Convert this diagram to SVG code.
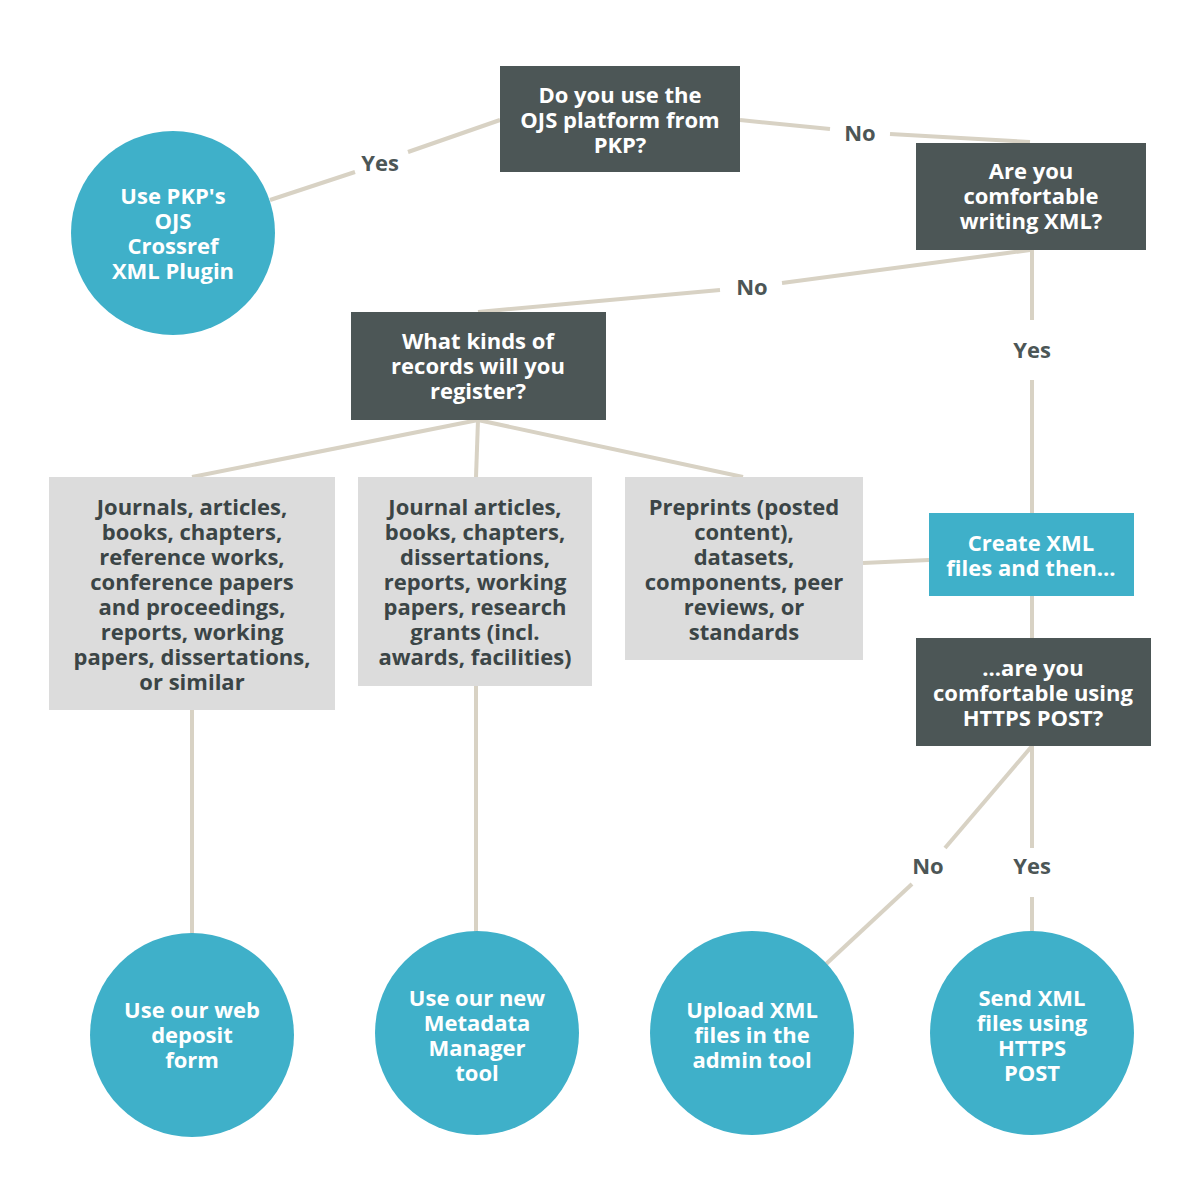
<svg xmlns="http://www.w3.org/2000/svg" width="1200" height="1200" viewBox="0 0 1200 1200">
<style>
.d{fill:#4c5656}.c{fill:#3fb0c9}.g{fill:#dcdcdc}.t{fill:#3fb0c9}
text{font-family:"Open Sans","Liberation Sans",sans-serif;font-weight:bold;font-size:22px;text-anchor:middle}
.w{fill:#ffffff}.k{fill:#3b4546}
.l{fill:#4c5656;font-size:22px}
#connectors line{stroke:#d8d2c4;stroke-width:4}
</style>
<rect width="1200" height="1200" fill="#fff"/>
<g id="connectors">
<line x1="500" y1="120" x2="408" y2="152"/><line x1="355" y1="172" x2="270" y2="200"/>
<line x1="740" y1="120" x2="830" y2="129"/><line x1="890" y1="134" x2="1030" y2="142"/>
<line x1="1030" y1="250" x2="782" y2="283"/><line x1="720" y1="290" x2="478" y2="312"/>
<line x1="1032" y1="250" x2="1032" y2="320"/><line x1="1032" y1="380" x2="1032" y2="513"/>
<line x1="478" y1="420" x2="192" y2="477"/><line x1="478" y1="420" x2="476" y2="477"/><line x1="478" y1="420" x2="743" y2="477"/>
<line x1="929" y1="560" x2="863" y2="563"/>
<line x1="1032" y1="596" x2="1032" y2="638"/>
<line x1="1032" y1="746" x2="945" y2="848"/><line x1="912" y1="884" x2="825" y2="965"/>
<line x1="1032" y1="746" x2="1032" y2="848"/><line x1="1032" y1="897" x2="1032" y2="935"/>
<line x1="192" y1="710" x2="192" y2="935"/><line x1="476" y1="686" x2="476" y2="932"/>
<text class="l" x="380" y="171">Yes</text>
<text class="l" x="860" y="141">No</text>
<text class="l" x="752" y="295">No</text>
<text class="l" x="1032" y="358">Yes</text>
<text class="l" x="928" y="874">No</text>
<text class="l" x="1032" y="874">Yes</text>
</g>
<g id="q1"><rect class="d" x="500" y="66" width="240" height="106"/>
<text class="w" x="620" y="103">Do you use the</text><text class="w" x="620" y="128">OJS platform from</text><text class="w" x="620" y="153">PKP?</text></g>
<g id="pkp"><circle class="c" cx="173" cy="233" r="102"/>
<text class="w" x="173" y="204">Use PKP's</text><text class="w" x="173" y="229">OJS</text><text class="w" x="173" y="254">Crossref</text><text class="w" x="173" y="279">XML Plugin</text></g>
<g id="q2"><rect class="d" x="916" y="143" width="230" height="107"/>
<text class="w" x="1031" y="179">Are you</text><text class="w" x="1031" y="204">comfortable</text><text class="w" x="1031" y="229">writing XML?</text></g>
<g id="q3"><rect class="d" x="351" y="312" width="255" height="108"/>
<text class="w" x="478" y="349">What kinds of</text><text class="w" x="478" y="374">records will you</text><text class="w" x="478" y="399">register?</text></g>
<g id="r1"><rect class="g" x="49" y="477" width="286" height="233"/>
<text class="k" x="192" y="515">Journals, articles,</text><text class="k" x="192" y="540">books, chapters,</text><text class="k" x="192" y="565">reference works,</text><text class="k" x="192" y="590">conference papers</text><text class="k" x="192" y="615">and proceedings,</text><text class="k" x="192" y="640">reports, working</text><text class="k" x="192" y="665">papers,  dissertations,</text><text class="k" x="192" y="690">or similar</text></g>
<g id="r2"><rect class="g" x="358" y="477" width="234" height="209"/>
<text class="k" x="475" y="515">Journal articles,</text><text class="k" x="475" y="540">books, chapters,</text><text class="k" x="475" y="565">dissertations,</text><text class="k" x="475" y="590">reports, working</text><text class="k" x="475" y="615">papers, research</text><text class="k" x="475" y="640">grants (incl.</text><text class="k" x="475" y="665">awards, facilities)</text></g>
<g id="r3"><rect class="g" x="625" y="477" width="238" height="183"/>
<text class="k" x="744" y="515">Preprints (posted</text><text class="k" x="744" y="540">content),</text><text class="k" x="744" y="565">datasets,</text><text class="k" x="744" y="590">components, peer</text><text class="k" x="744" y="615">reviews, or</text><text class="k" x="744" y="640">standards</text></g>
<g id="create"><rect class="t" x="929" y="513" width="205" height="83"/>
<text class="w" x="1031" y="551">Create XML</text><text class="w" x="1031" y="576">files and then...</text></g>
<g id="q4"><rect class="d" x="916" y="638" width="235" height="108"/>
<text class="w" x="1033" y="676">...are you</text><text class="w" x="1033" y="701">comfortable using</text><text class="w" x="1033" y="726">HTTPS POST?</text></g>
<g id="web"><circle class="c" cx="192" cy="1035" r="102"/>
<text class="w" x="192" y="1018">Use our web</text><text class="w" x="192" y="1043">deposit</text><text class="w" x="192" y="1068">form</text></g>
<g id="mm"><circle class="c" cx="477" cy="1033" r="102"/>
<text class="w" x="477" y="1006">Use our new</text><text class="w" x="477" y="1031">Metadata</text><text class="w" x="477" y="1056">Manager</text><text class="w" x="477" y="1081">tool</text></g>
<g id="upload"><circle class="c" cx="752" cy="1033" r="102"/>
<text class="w" x="752" y="1018">Upload XML</text><text class="w" x="752" y="1043">files in the</text><text class="w" x="752" y="1068">admin tool</text></g>
<g id="https"><circle class="c" cx="1032" cy="1033" r="102"/>
<text class="w" x="1032" y="1006">Send XML</text><text class="w" x="1032" y="1031">files using</text><text class="w" x="1032" y="1056">HTTPS</text><text class="w" x="1032" y="1081">POST</text></g>
</svg>
